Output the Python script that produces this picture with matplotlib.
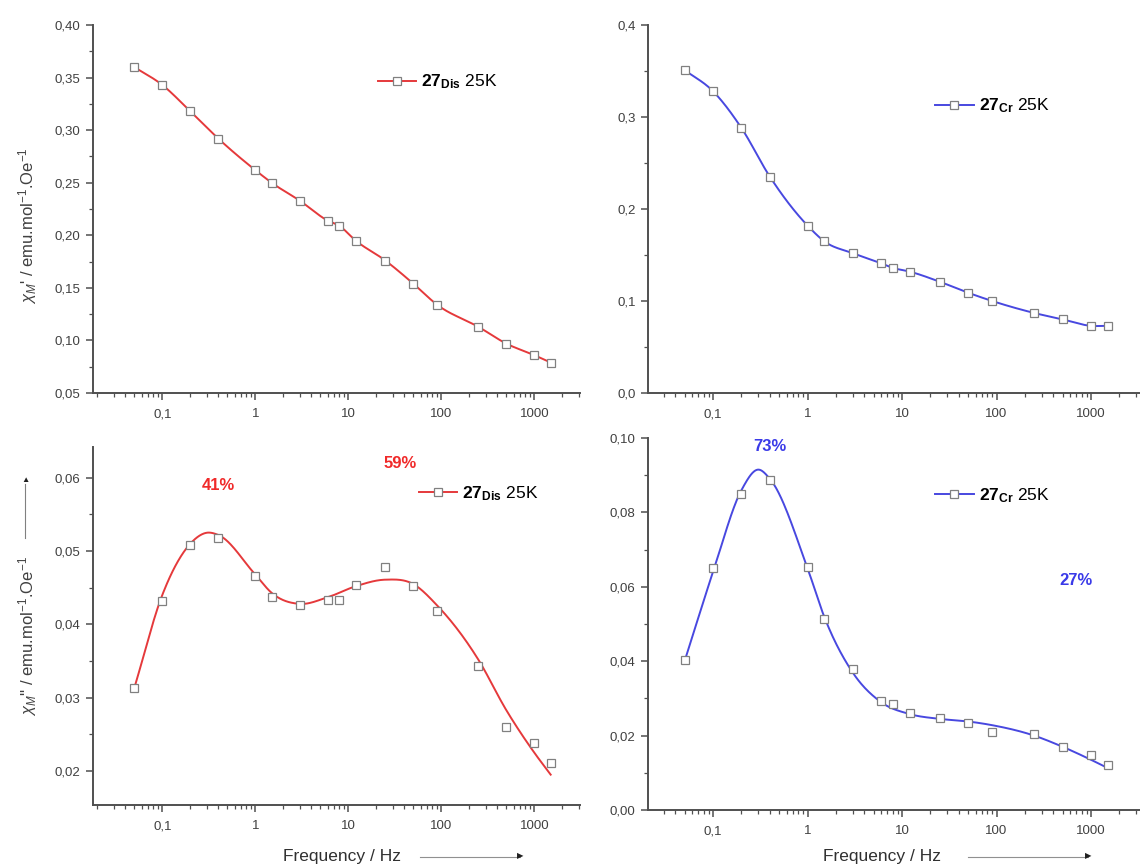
import numpy as np
import matplotlib
matplotlib.use("Agg")
import matplotlib.pyplot as plt
from matplotlib.ticker import FuncFormatter, LogLocator, MultipleLocator, NullFormatter

plt.rcParams['font.family'] = ['Liberation Sans', 'DejaVu Sans']
plt.rcParams['mathtext.fontset'] = 'custom'
plt.rcParams['mathtext.rm'] = 'Liberation Sans'
plt.rcParams['mathtext.it'] = 'Liberation Sans:italic'
plt.rcParams['mathtext.bf'] = 'Liberation Sans:bold'

# frequencies (Hz)
freq = [0.05, 0.1, 0.2, 0.4, 1, 1.5, 3, 6, 8, 12, 25, 50, 90, 250, 500, 1000, 1500]

# chi' (in phase)
chi1_dis = [0.360, 0.343, 0.318, 0.292, 0.262, 0.250, 0.233, 0.214, 0.209, 0.195,
            0.176, 0.154, 0.134, 0.113, 0.097, 0.086, 0.079]
chi1_cr = [0.351, 0.328, 0.288, 0.235, 0.182, 0.165, 0.152, 0.141, 0.136, 0.132,
           0.121, 0.109, 0.100, 0.087, 0.080, 0.073, 0.073]

# chi'' (out of phase)
chi2_dis = [0.0313, 0.0432, 0.0508, 0.0518, 0.0466, 0.0438, 0.0426, 0.0433, 0.0433, 0.0454,
            0.0478, 0.0453, 0.0418, 0.0343, 0.0260, 0.0238, 0.0211]
chi2_cr = [0.0404, 0.0650, 0.0850, 0.0887, 0.0653, 0.0513, 0.0380, 0.0294, 0.0286, 0.0261,
           0.0248, 0.0234, 0.0210, 0.0205, 0.0170, 0.0147, 0.0122]

# fitted curves
fit_f = [0.05, 0.1, 0.2, 0.3, 0.4, 1, 1.5, 3, 6, 12, 25, 50, 90, 250, 500, 1000, 1500]
fit2_dis = [0.0313, 0.0440, 0.0510, 0.0525, 0.0522, 0.0468, 0.0443, 0.0428, 0.0437, 0.0452,
            0.0461, 0.0455, 0.0426, 0.0352, 0.0283, 0.0225, 0.0195]
fit2_cr = [0.0400, 0.0640, 0.0860, 0.0915, 0.0890, 0.0650, 0.0520, 0.0370, 0.0290, 0.0258,
           0.0245, 0.0238, 0.0228, 0.0200, 0.0170, 0.0135, 0.0113]

RED = '#e5393b'
BLUE = '#4848e0'
AXC = '#505050'


def smooth(xs, ys, n=30):
    """piecewise cubic hermite in log-x, only for drawing the line"""
    lx = np.log10(xs)
    y = np.asarray(ys, float)
    h = np.diff(lx)
    d = np.diff(y) / h
    m = np.empty_like(y)
    m[0], m[-1] = d[0], d[-1]
    m[1:-1] = (d[:-1] * h[1:] + d[1:] * h[:-1]) / (h[:-1] + h[1:])
    ox, oy = [], []
    for i in range(len(h)):
        t = np.linspace(0, 1, n, endpoint=False)
        h00 = 2 * t**3 - 3 * t**2 + 1
        h10 = t**3 - 2 * t**2 + t
        h01 = -2 * t**3 + 3 * t**2
        h11 = t**3 - t**2
        ox.append(lx[i] + t * h[i])
        oy.append(h00 * y[i] + h10 * h[i] * m[i] + h01 * y[i + 1] + h11 * h[i] * m[i + 1])
    ox.append([lx[-1]])
    oy.append([y[-1]])
    return 10 ** np.concatenate(ox), np.concatenate(oy)


def comma(v, pos, nd):
    return f"{v:.{nd}f}".replace('.', ',')


def xfmt(v, pos):
    if v < 1:
        return f"{v:g}".replace('.', ',')
    return f"{v:g}"


fig = plt.figure(figsize=(11.4, 8.65), dpi=100)
W, H = 1140, 865


def add_ax(x0, x1, y0, y1):
    return fig.add_axes([x0 / W, 1 - y1 / H, (x1 - x0) / W, (y1 - y0) / H])


ax1 = add_ax(93, 580, 25, 393)
ax2 = add_ax(648, 1140, 25, 393)
ax3 = add_ax(93, 580, 447, 805)
ax4 = add_ax(648, 1140, 438, 810)

panels = [
    (ax1, chi1_dis, freq, chi1_dis, RED, r'$\mathbf{27}_{\mathbf{Dis}}$ 25K', (0.05, 0.40), 0.05, 0.025, 2, (0.018, 3100)),
    (ax2, chi1_cr, freq, chi1_cr, BLUE, r'$\mathbf{27}_{\mathbf{Cr}}$ 25K', (0.0, 0.4), 0.1, 0.05, 1, (0.0205, 3300)),
    (ax3, chi2_dis, fit_f, fit2_dis, RED, r'$\mathbf{27}_{\mathbf{Dis}}$ 25K', (0.01536, 0.0642), 0.01, 0.005, 2, (0.018, 3100)),
    (ax4, chi2_cr, fit_f, fit2_cr, BLUE, r'$\mathbf{27}_{\mathbf{Cr}}$ 25K', (0.0, 0.10), 0.02, 0.01, 2, (0.0205, 3300)),
]
leg_pos = [(0.57, 0.845), (0.57, 0.78), (0.655, 0.87), (0.57, 0.845)]

for (ax, pts, ff, fv, col, lab, ylim, maj, mnr, nd, xlim), lp in zip(panels, leg_pos):
    sx, sy = smooth(ff, fv)
    ax.plot(sx, sy, color=col, lw=1.4, zorder=2)
    ax.plot(freq, pts, ls='none', marker='s', ms=6, mfc='white', mec='#808080', mew=0.9, zorder=3)
    # legend proxy
    ax.plot([], [], color=col, lw=1.4, marker='s', ms=6, mfc='white', mec='#808080', mew=0.9, label=lab)
    ax.legend(loc='center left', bbox_to_anchor=lp, frameon=False, handlelength=2.2,
              handletextpad=0.3, fontsize=12.5, borderaxespad=0)
    ax.set_xscale('log')
    ax.set_xlim(*xlim)
    ax.set_ylim(*ylim)
    ax.xaxis.set_major_locator(LogLocator(base=10, numticks=12))
    ax.xaxis.set_minor_locator(LogLocator(base=10, subs=np.arange(2, 10), numticks=12))
    ax.xaxis.set_major_formatter(FuncFormatter(xfmt))
    ax.xaxis.set_minor_formatter(NullFormatter())
    ax.yaxis.set_major_locator(MultipleLocator(maj))
    ax.yaxis.set_minor_locator(MultipleLocator(mnr))
    ax.yaxis.set_major_formatter(FuncFormatter(lambda v, p, nd=nd: comma(v, p, nd)))
    for s in ('top', 'right'):
        ax.spines[s].set_visible(False)
    for s in ('left', 'bottom'):
        ax.spines[s].set_color(AXC)
        ax.spines[s].set_linewidth(1.4)
    ax.tick_params(which='major', direction='out', length=5, width=1.1, color=AXC,
                   labelsize=9.5, labelcolor='#404040', pad=4)
    ax.tick_params(axis='x', which='major', pad=6)
    ax.tick_params(which='minor', direction='out', length=3, width=0.9, color=AXC)

# percentage labels
ax3.text(0.4, 0.0589, '41%', color='#f02a2a', fontsize=12, fontweight='bold', ha='center', va='center')
ax3.text(36, 0.0620, '59%', color='#f02a2a', fontsize=12, fontweight='bold', ha='center', va='center')
ax4.text(0.4, 0.0976, '73%', color='#3a3ae8', fontsize=12, fontweight='bold', ha='center', va='center')
ax4.text(700, 0.0618, '27%', color='#3a3ae8', fontsize=12, fontweight='bold', ha='center', va='center')

# y labels
fig.text(28 / W, 1 - 226 / H, r"$\chi_M$' / emu.mol$^{-1}$.Oe$^{-1}$", rotation=90,
         ha='center', va='center', fontsize=12, color='#404040')
fig.text(28 / W, 1 - 636 / H, r"$\chi_M$'' / emu.mol$^{-1}$.Oe$^{-1}$", rotation=90,
         ha='center', va='center', fontsize=12, color='#404040')
fig.add_artist(plt.Line2D([25 / W, 25 / W], [1 - 538 / H, 1 - 484 / H], color='#808080', lw=0.8))
fig.text(25 / W, 1 - 481 / H, '\u25b2', ha='center', va='center', fontsize=6, color='#202020')

# x labels with arrows
for cx, a0, a1 in [(342, 420, 520), (882, 968, 1088)]:
    fig.text(cx / W, 1 - 856 / H, 'Frequency / Hz', ha='center', va='center', fontsize=12.5, color='#303030')
    fig.add_artist(plt.Line2D([a0 / W, a1 / W], [1 - 857 / H, 1 - 857 / H], color='#909090', lw=0.8))
    fig.text(a1 / W, 1 - 857 / H, '\u25b6', ha='center', va='center', fontsize=6, color='#202020')

fig.savefig('out.png', dpi=100, facecolor='white')
